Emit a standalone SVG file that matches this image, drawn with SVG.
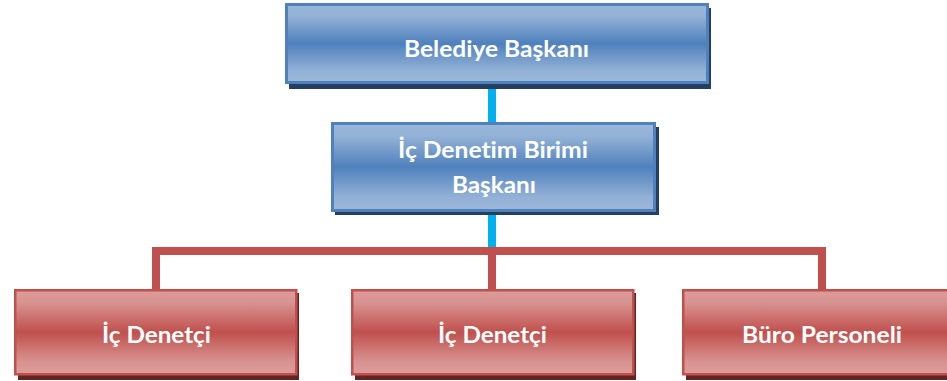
<svg xmlns="http://www.w3.org/2000/svg" width="947" height="381" viewBox="0 0 947 381">
  <defs>
    <linearGradient id="gBlue" x1="0" y1="0" x2="0" y2="1">
      <stop offset="0" stop-color="#9bb8da"/>
      <stop offset="0.15" stop-color="#93b1d6"/>
      <stop offset="0.5" stop-color="#4f81bd"/>
      <stop offset="0.85" stop-color="#93b1d6"/>
      <stop offset="1" stop-color="#9bb8da"/>
    </linearGradient>
    <linearGradient id="gRed" x1="0" y1="0" x2="0" y2="1">
      <stop offset="0" stop-color="#dc9b99"/>
      <stop offset="0.15" stop-color="#d79391"/>
      <stop offset="0.5" stop-color="#c0504d"/>
      <stop offset="0.85" stop-color="#d79391"/>
      <stop offset="1" stop-color="#dc9b99"/>
    </linearGradient>
    <style>
      .bshadow { fill: #243f60; }
      .rshadow { fill: #632523; }
      .bbox { fill: url(#gBlue); stroke: #4f81bd; stroke-width: 3; }
      .rbox { fill: url(#gRed); stroke: #c0504d; stroke-width: 2.5; }
      .lbl { font-family: Lato, "Open Sans", "Liberation Sans", sans-serif; font-weight: bold; font-size: 22.5px; fill: #ffffff; text-anchor: middle; font-variant-ligatures: none; font-feature-settings: "liga" 0, "clig" 0; }
      .blue { stroke: #00b0f0; stroke-width: 8; fill: none; }
      .red { stroke: #c0504d; stroke-width: 8; fill: none; }
    </style>
  </defs>
  <rect width="947" height="381" fill="#ffffff"/>

  <g id="connectors">
    <line class="blue" x1="492" y1="84" x2="492" y2="122"/>
    <line class="blue" x1="492" y1="212" x2="492" y2="248"/>
    <path class="red" d="M156,289 V251 H822 V289"/>
    <line class="red" x1="492" y1="251" x2="492" y2="289"/>
  </g>

  <g id="node-belediye-baskani">
    <rect class="bshadow" x="289" y="8" width="422" height="81"/>
    <rect class="bbox" x="286.5" y="4.5" width="421" height="78"/>
    <text class="lbl" x="496.5" y="57" textLength="185" lengthAdjust="spacingAndGlyphs">Belediye Başkanı</text>
  </g>

  <g id="node-ic-denetim-birimi-baskani">
    <rect class="bshadow" x="335" y="127" width="324" height="88"/>
    <rect class="bbox" x="332.5" y="123.5" width="322" height="87"/>
    <text class="lbl" x="493" y="158" textLength="190" lengthAdjust="spacingAndGlyphs">İç Denetim Birimi</text>
    <text class="lbl" x="494" y="193" textLength="84" lengthAdjust="spacingAndGlyphs">Başkanı</text>
  </g>

  <g id="node-ic-denetci-1">
    <rect class="rshadow" x="18" y="293" width="281" height="87"/>
    <rect class="rbox" x="15.25" y="290.25" width="281" height="84"/>
    <text class="lbl" x="156.5" y="343" textLength="109" lengthAdjust="spacingAndGlyphs">İç Denetçi</text>
  </g>

  <g id="node-ic-denetci-2">
    <rect class="rshadow" x="355" y="293" width="281" height="87"/>
    <rect class="rbox" x="352.25" y="290.25" width="281" height="84"/>
    <text class="lbl" x="492.5" y="343" textLength="109" lengthAdjust="spacingAndGlyphs">İç Denetçi</text>
  </g>

  <g id="node-buro-personeli">
    <rect class="rshadow" x="686" y="293" width="281" height="87"/>
    <rect class="rbox" x="683.25" y="290.25" width="281" height="84"/>
    <text class="lbl" x="822" y="343" textLength="160" lengthAdjust="spacingAndGlyphs">Büro Personeli</text>
  </g>
</svg>
